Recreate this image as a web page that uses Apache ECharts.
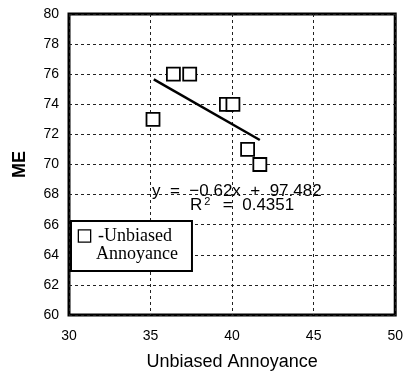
<!DOCTYPE html>
<html><head><meta charset="utf-8">
<script src="https://cdn.jsdelivr.net/npm/echarts@6/dist/echarts.min.js"></script>
<style>html,body{margin:0;padding:0;background:#fff}#c{width:406px;height:376px}</style>
</head><body><div id="c"></div>
<script>
const xValues = [35.15, 36.4, 37.4, 39.65, 40.05, 40.95, 41.7];
const yValues = [73.0, 76.0, 76.0, 74.0, 74.0, 71.0, 70.0];
const trendX = [35.2, 41.7];
const trendY = [75.66, 71.63];
const seriesName = 'Unbiased Annoyance';
const legendLines = ['-Unbiased', 'Annoyance'];
const xTitle = 'Unbiased Annoyance';
const yTitle = 'ME';

const chart = echarts.init(document.getElementById('c'));
chart.setOption({
  animation: false,
  backgroundColor: '#fff',
  grid: {left: 69, right: 10, top: 14, bottom: 59, show: true, borderColor: '#000', borderWidth: 3, backgroundColor: 'transparent'},
  xAxis: {
    type: 'value', min: 30, max: 50, interval: 5,
    name: xTitle, nameLocation: 'middle', nameGap: 38,
    nameTextStyle: {fontFamily: 'Liberation Sans', fontSize: 18, color: '#000'},
    axisLine: {show: false}, axisTick: {show: false},
    axisLabel: {fontFamily: 'Liberation Sans', fontSize: 14, color: '#000', margin: 14},
    splitLine: {show: true, lineStyle: {color: '#222', type: [3, 3], width: 1}}
  },
  yAxis: {
    type: 'value', min: 60, max: 80, interval: 2,
    name: yTitle, nameLocation: 'middle', nameGap: 40,
    nameTextStyle: {fontFamily: 'Liberation Sans', fontSize: 18, fontWeight: 'bold', color: '#000'},
    axisLine: {show: false}, axisTick: {show: false},
    axisLabel: {fontFamily: 'Liberation Sans', fontSize: 14, color: '#000', margin: 10},
    splitLine: {show: true, lineStyle: {color: '#222', type: [3, 3], width: 1}}
  },
  legend: {
    left: 71, top: 221, orient: 'vertical',
    backgroundColor: '#fff', borderColor: '#000', borderWidth: 2, borderRadius: 0,
    padding: [6, 14, 8, 3],
    itemWidth: 0, itemHeight: 0, icon: 'none',
    data: [{name: seriesName}],
    formatter: () => '{b|}{g|}{t|' + legendLines[0] + '}\n{s|}{t|' + legendLines[1] + '}',
    textStyle: {
      fontFamily: 'Liberation Serif', fontSize: 18, color: '#000', lineHeight: 18,
      rich: {
        b: {width: 11, height: 11, borderColor: '#000', borderWidth: 1.3, backgroundColor: '#fff'},
        g: {width: 8},
        s: {width: 17},
        t: {fontFamily: 'Liberation Serif', fontSize: 18, lineHeight: 18, color: '#000'}
      }
    }
  },
  graphic: [
    {type: 'text', left: 152, top: 183, style: {text: 'y  =  \u22120.62x  +  97.482', font: '17px "Liberation Sans"', fill: '#000'}},
    {type: 'text', left: 190, top: 196, style: {text: '{a|R}{s|2}{a|  =  0.4351}', rich: {a: {font: '17px "Liberation Sans"', fill: '#000', verticalAlign: 'bottom'}, s: {font: '11px "Liberation Sans"', fill: '#000', verticalAlign: 'top', padding: [0, 3, 7, 2]}}}}
  ],
  series: [
    {
      name: seriesName, type: 'scatter', symbol: 'rect', symbolSize: 13,
      itemStyle: {color: '#fff', borderColor: '#000', borderWidth: 1.8, opacity: 1},
      data: xValues.map((x, i) => [x, yValues[i]]), z: 3
    },
    {
      name: 'trend', type: 'line', symbol: 'none',
      lineStyle: {color: '#000', width: 2.5},
      data: trendX.map((x, i) => [x, trendY[i]]), z: 4
    }
  ]
});
</script></body></html>
